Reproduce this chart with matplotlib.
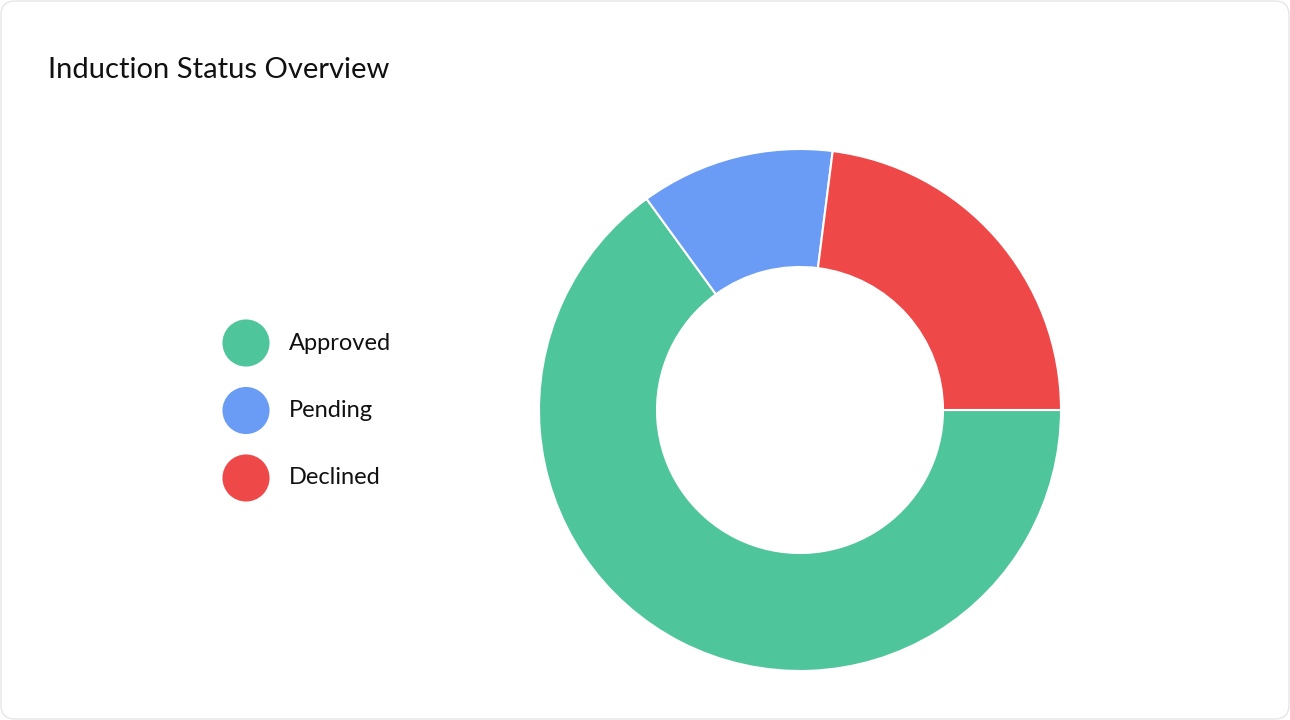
import matplotlib.pyplot as plt
from matplotlib.patches import FancyBboxPatch

labels = ["Approved", "Pending", "Declined"]
values = [65, 12, 23]
colors = ["#4fc59b", "#6a9cf6", "#ef4848"]

plt.rcParams["font.family"] = ["Lato", "DejaVu Sans"]

W, H = 1290, 720
fig = plt.figure(figsize=(W / 100, H / 100), dpi=100)
fig.patch.set_facecolor("white")

# card border
bg = fig.add_axes([0, 0, 1, 1])
bg.set_xlim(0, W)
bg.set_ylim(H, 0)
bg.axis("off")
bg.add_patch(FancyBboxPatch((1, 1), W - 2, H - 2, boxstyle="round,pad=0,rounding_size=14",
                            facecolor="white", edgecolor="#e6e6e6", lw=1))
bg.text(48, 70, "Induction Status Overview", fontsize=21, va="center", ha="left", color="#111111")

# legend
for i, (lab, col) in enumerate(zip(labels, colors)):
    y = 343 + i * 67.5
    bg.scatter(246, y, s=1150, color=col, edgecolors="none")
    bg.text(289, y, lab, fontsize=17, va="center", ha="left", color="#111111")

# donut
cx, cy, r = 800, 410, 261
ax = fig.add_axes([(cx - r) / W, (H - cy - r) / H, 2 * r / W, 2 * r / H])
ax.pie(values, colors=colors, startangle=0, counterclock=False,
       wedgeprops=dict(width=1 - 143 / 261, edgecolor="white", linewidth=1.5))
ax.set_xlim(-1, 1)
ax.set_ylim(-1, 1)
ax.set_aspect("equal")

fig.savefig("out.png", dpi=100)
